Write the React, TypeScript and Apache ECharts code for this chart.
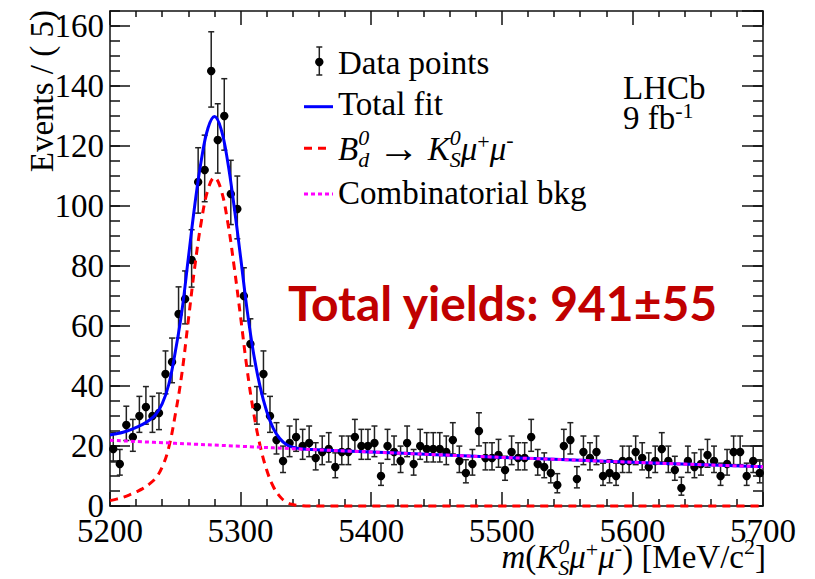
import React, { useEffect, useRef } from "react";
import * as echarts from "echarts";

const SERIF = "'Liberation Serif', 'Times New Roman', Times, serif";
const SANS = "Lato, 'Open Sans', Roboto, sans-serif";

// Mass window and binning (MeV/c^2)
const MASS_MIN = 5200;
const MASS_MAX = 5700;
const BIN_WIDTH = 5;
const X_TICK_STEP = 100;
const Y_MAX = 165;
const Y_TICK_STEP = 20;

// Candidates per 5 MeV/c^2 bin, first bin starting at 5200
const counts = [
  19, 14, 27, 23, 30, 33, 30, 31, 44, 48,
  64, 69, 82, 108, 112, 145, 122, 130, 104, 99,
  70, 54, 33, 44, 30, 22, 15, 21, 23, 20,
  21, 16, 18, 19, 13, 18, 18, 23, 20, 20,
  21, 10, 20, 18, 15, 21, 14, 20, 19, 19,
  19, 18, 22, 15, 11, 14, 25, 16, 16, 17,
  12, 18, 16, 16, 23, 14, 13, 11, 7, 20,
  22, 9, 18, 16, 18, 10, 11, 10, 15, 15,
  18, 16, 13, 15, 19, 15, 12, 6, 15, 13,
  14, 17, 15, 10, 14, 18, 18, 10, 15, 11,
];

// Fit model sampled along the mass axis
const fitMass = [
  5200, 5205, 5210, 5215, 5220, 5225, 5230, 5235, 5240, 5245, 5250, 5255, 5260, 5265,
  5270, 5275, 5280, 5285, 5290, 5295, 5300, 5305, 5310, 5315, 5320, 5325, 5330, 5335,
  5340, 5345, 5350, 5400, 5450, 5500, 5550, 5600, 5650, 5700,
];
const signalCurve = [
  1.8, 2.3, 2.9, 3.7, 4.7, 5.8, 7.3, 9.3, 13, 19.5, 30.5, 44, 62, 80,
  95, 105.5, 109.5, 105.5, 95, 80, 63, 45.5, 31, 20, 12, 6.5, 3.2, 1.3,
  0.5, 0.15, 0, 0, 0, 0, 0, 0, 0, 0,
];
const totalCurve = [
  23.7, 24.1, 24.6, 25.3, 26.2, 27.2, 28.6, 30.5, 34.1, 40.5, 51.4, 64.8, 82.7, 100.6,
  115.5, 125.9, 129.8, 125.7, 115.1, 100.0, 82.9, 65.3, 50.7, 39.6, 31.5, 25.9, 22.5, 20.5,
  19.6, 19.15, 18.9, 18.0, 17.1, 16.2, 15.4, 14.6, 13.8, 13.1,
];
const bkgMass = [5200, 5250, 5300, 5350, 5400, 5450, 5500, 5550, 5600, 5650, 5700];
const bkgCurve = [21.9, 20.9, 19.9, 18.9, 18.0, 17.1, 16.2, 15.4, 14.6, 13.8, 13.1];

// Asymmetric Poisson error bars (Gehrels approximation)
function poissonBand(n: number): [number, number] {
  const lo = n > 0 ? n - Math.sqrt(n - 0.25) : 0;
  const hi = n + 1 + Math.sqrt(n + 0.75);
  return [lo, hi];
}

type Seg = { t: string; it?: boolean; sz?: number; dy?: number; stack?: boolean };

// Lays out a run of text pieces (with super/subscripts) left-to-right
function layoutLine(
  ctx: CanvasRenderingContext2D,
  x0: number,
  yMid: number,
  segs: Seg[],
  align: "left" | "right",
  color: string
) {
  let cursor = 0;
  let prevX = 0;
  let prevW = 0;
  const placed: { s: Seg; x: number }[] = [];
  for (const s of segs) {
    const sz = s.sz ?? 33;
    ctx.font = `${s.it ? "italic " : ""}${sz}px ${SERIF}`;
    const w = ctx.measureText(s.t).width;
    if (s.stack) {
      placed.push({ s, x: prevX });
      prevW = Math.max(prevW, w);
      cursor = prevX + prevW;
    } else {
      placed.push({ s, x: cursor });
      prevX = cursor;
      prevW = w;
      cursor += w;
    }
  }
  const start = align === "right" ? x0 - cursor : x0;
  return placed.map(({ s, x }) => {
    const sz = s.sz ?? 33;
    return {
      type: "text",
      x: start + x,
      y: yMid + (s.dy ?? 0),
      z: 20,
      style: {
        text: s.t,
        fontSize: sz,
        fontFamily: SERIF,
        fontStyle: s.it ? "italic" : "normal",
        lineHeight: Math.round(sz * 0.8),
        fill: color,
        align: "left",
        verticalAlign: "middle",
      },
    };
  });
}

export default function App() {
  const ref = useRef<HTMLDivElement>(null);

  useEffect(() => {
    if (!ref.current) return;
    const chart = echarts.init(ref.current, undefined, { renderer: "svg" });
    const ctx = document.createElement("canvas").getContext("2d") as CanvasRenderingContext2D;

    const points = counts.map((n, i) => {
      const [lo, hi] = poissonBand(n);
      return [MASS_MIN + BIN_WIDTH * (i + 0.5), n, lo, hi];
    });

    const frame = { color: "#111", width: 1.5 };
    const labelFont = { fontSize: 33, fontFamily: SERIF, color: "#000" };

    const xBase = {
      type: "value",
      min: MASS_MIN,
      max: MASS_MAX,
      interval: X_TICK_STEP,
      axisLine: { show: true, onZero: false, lineStyle: frame },
      splitLine: { show: false },
      minorSplitLine: { show: false },
    };
    const yBase = {
      type: "value",
      min: 0,
      max: Y_MAX,
      axisLine: { show: true, onZero: false, lineStyle: frame },
      splitLine: { show: false },
    };

    const legendX = 338;
    const graphics: any[] = [
      // y-axis title
      {
        type: "text",
        x: 42,
        y: 10,
        rotation: Math.PI / 2,
        z: 20,
        style: {
          text: "Events / ( 5)",
          fontSize: 33,
          fontFamily: SERIF,
          lineHeight: 26,
          fill: "#000",
          align: "right",
          verticalAlign: "middle",
        },
      },
      // legend: data point marker
      { type: "line", z: 20, shape: { x1: 319.3, y1: 47, x2: 319.3, y2: 75 }, style: { stroke: "#222", lineWidth: 1.5 } },
      { type: "line", z: 20, shape: { x1: 316.3, y1: 47, x2: 322.3, y2: 47 }, style: { stroke: "#222", lineWidth: 1.5 } },
      { type: "line", z: 20, shape: { x1: 316.3, y1: 75, x2: 322.3, y2: 75 }, style: { stroke: "#222", lineWidth: 1.5 } },
      { type: "circle", z: 20, shape: { cx: 319.3, cy: 62, r: 4.2 }, style: { fill: "#000" } },
      // legend: curves
      { type: "line", z: 20, shape: { x1: 304, y1: 106.7, x2: 333, y2: 106.7 }, style: { stroke: "#0000ff", lineWidth: 3 } },
      { type: "line", z: 20, shape: { x1: 304, y1: 148.3, x2: 327, y2: 148.3 }, style: { stroke: "#ff0000", lineWidth: 3, lineDash: [8, 6] } },
      { type: "line", z: 20, shape: { x1: 304, y1: 194, x2: 333, y2: 194 }, style: { stroke: "#ff00ff", lineWidth: 3, lineDash: [4, 3] } },
      ...layoutLine(ctx, legendX, 62.7, [{ t: "Data points" }], "left", "#000"),
      ...layoutLine(ctx, legendX, 103.7, [{ t: "Total fit" }], "left", "#000"),
      ...layoutLine(
        ctx,
        legendX,
        149,
        [
          { t: "B", it: true },
          { t: "0", it: true, sz: 22, dy: -12 },
          { t: "d", it: true, sz: 22, dy: 10, stack: true },
          { t: " " },
          { t: "\u2192", sz: 42, dy: -1 },
          { t: " " },
          { t: "K", it: true },
          { t: "0", it: true, sz: 22, dy: -12 },
          { t: "S", it: true, sz: 22, dy: 10, stack: true },
          { t: "\u03bc", it: true },
          { t: "+", sz: 22, dy: -8 },
          { t: "\u03bc", it: true },
          { t: "-", sz: 22, dy: -10 },
        ],
        "left",
        "#000"
      ),
      ...layoutLine(ctx, legendX, 193.3, [{ t: "Combinatorial bkg" }], "left", "#000"),
      // experiment label
      ...layoutLine(ctx, 623, 88, [{ t: "LHCb" }], "left", "#000"),
      ...layoutLine(ctx, 623, 118, [{ t: "9 fb" }, { t: "-1", sz: 22, dy: -8 }], "left", "#000"),
      // x-axis title
      ...layoutLine(
        ctx,
        766,
        557,
        [
          { t: "m", it: true },
          { t: "(" },
          { t: "K", it: true },
          { t: "0", it: true, sz: 22, dy: -11 },
          { t: "S", it: true, sz: 22, dy: 10, stack: true },
          { t: "\u03bc", it: true },
          { t: "+", sz: 22, dy: -8 },
          { t: "\u03bc", it: true },
          { t: "-", sz: 22, dy: -10 },
          { t: ")" },
          { t: " [MeV/c" },
          { t: "2", sz: 22, dy: -11 },
          { t: "]" },
        ],
        "right",
        "#000"
      ),
      // yield annotation
      {
        type: "text",
        x: 288,
        y: 302,
        z: 20,
        style: {
          text: "Total yields: 941\u00b155",
          fontSize: 48,
          fontWeight: "bold",
          fontFamily: SANS,
          fill: "#c00000",
          align: "left",
          verticalAlign: "middle",
        },
      },
    ];

    chart.setOption({
      animation: false,
      backgroundColor: "#fff",
      grid: { left: 110, right: 52, top: 11, bottom: 73, containLabel: false, outerBoundsMode: "none" },
      xAxis: [
        {
          ...xBase,
          position: "bottom",
          axisTick: { show: true, inside: true, length: 14, lineStyle: frame },
          minorTick: { show: true, splitNumber: 5, length: 7, lineStyle: frame },
          axisLabel: {
            show: true,
            margin: 12,
            lineHeight: 26,
            formatter: (v: number) => String(v),
            ...labelFont,
          },
        },
        {
          ...xBase,
          position: "top",
          axisTick: { show: true, inside: true, length: 14, lineStyle: frame },
          minorTick: { show: true, splitNumber: 5, length: 6, lineStyle: frame },
          axisLabel: { show: false },
        },
      ],
      yAxis: [
        {
          ...yBase,
          position: "left",
          interval: Y_TICK_STEP,
          axisTick: { show: true, inside: true, length: 20, lineStyle: frame },
          axisLabel: {
            show: true,
            margin: 6,
            showMaxLabel: false,
            lineHeight: 26,
            formatter: (v: number) => String(v),
            ...labelFont,
          },
        },
        {
          ...yBase,
          position: "left",
          interval: 5,
          axisLine: { show: false },
          axisTick: { show: true, inside: true, length: 10, lineStyle: frame },
          axisLabel: { show: false },
        },
        {
          ...yBase,
          position: "right",
          interval: Y_TICK_STEP,
          axisTick: { show: true, inside: true, length: 21, lineStyle: frame },
          axisLabel: { show: false },
        },
        {
          ...yBase,
          position: "right",
          interval: 5,
          axisLine: { show: false },
          axisTick: { show: true, inside: true, length: 10, lineStyle: frame },
          axisLabel: { show: false },
        },
      ],
      series: [
        {
          name: "Total fit",
          type: "line",
          data: fitMass.map((m, i) => [m, totalCurve[i]]),
          symbol: "none",
          smooth: 0.4,
          lineStyle: { color: "#0000ff", width: 3 },
        },
        {
          name: "Signal",
          type: "line",
          data: fitMass.map((m, i) => [m, signalCurve[i]]),
          symbol: "none",
          smooth: 0.4,
          clip: false,
          lineStyle: { color: "#ff0000", width: 3, type: [8, 6] },
        },
        {
          name: "Combinatorial bkg",
          type: "line",
          data: bkgMass.map((m, i) => [m, bkgCurve[i]]),
          symbol: "none",
          smooth: 0.4,
          lineStyle: { color: "#ff00ff", width: 3, type: [4, 3] },
        },
        {
          name: "Data points",
          type: "custom",
          clip: false,
          data: points,
          encode: { x: 0, y: 1 },
          renderItem: (_params: any, api: any) => {
            const m = api.value(0);
            const c = api.coord([m, api.value(1)]);
            const lo = api.coord([m, api.value(2)]);
            const hi = api.coord([m, api.value(3)]);
            const s = { stroke: "#222", lineWidth: 1.5 };
            return {
              type: "group",
              children: [
                { type: "line", shape: { x1: c[0], y1: hi[1], x2: c[0], y2: lo[1] }, style: s },
                { type: "line", shape: { x1: c[0] - 3, y1: hi[1], x2: c[0] + 3, y2: hi[1] }, style: s },
                { type: "line", shape: { x1: c[0] - 3, y1: lo[1], x2: c[0] + 3, y2: lo[1] }, style: s },
                { type: "circle", shape: { cx: c[0], cy: c[1], r: 4.2 }, style: { fill: "#000" } },
              ],
            };
          },
        },
      ],
      graphic: graphics,
    });

    return () => chart.dispose();
  }, []);

  return (
    <div
      ref={ref}
      style={{ position: "fixed", left: 0, top: 0, width: 815, height: 579, background: "#fff" }}
    />
  );
}
